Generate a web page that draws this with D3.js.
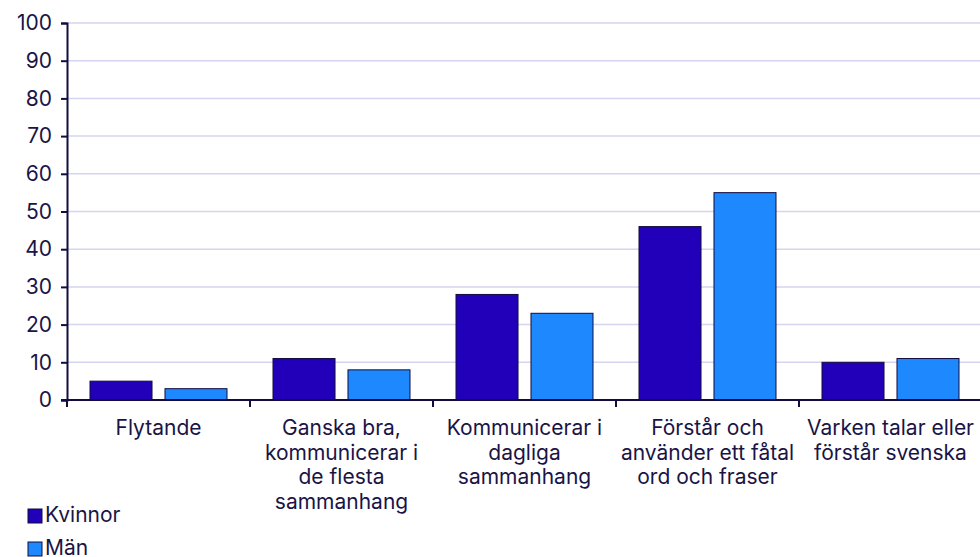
<!DOCTYPE html>
<html>
<head>
<meta charset="utf-8">
<script src="https://cdn.jsdelivr.net/npm/d3@7"></script>
<style>
  body { margin: 0; background: #fff; }
  svg text { font-family: Inter, "Noto Sans", sans-serif; font-size: 21px; }
</style>
</head>
<body>
<div id="chart"></div>
<script>
const categories = [
  'Flytande',
  'Ganska bra, kommunicerar i de flesta sammanhang',
  'Kommunicerar i dagliga sammanhang',
  'Förstår och använder ett fåtal ord och fraser',
  'Varken talar eller förstår svenska'
];
// wrapped as in the original
const categoryLines = [
  ['Flytande'],
  ['Ganska bra,', 'kommunicerar i', 'de flesta', 'sammanhang'],
  ['Kommunicerar i', 'dagliga', 'sammanhang'],
  ['Förstår och', 'använder ett fåtal', 'ord och fraser'],
  ['Varken talar eller', 'förstår svenska']
];
const seriesNames = ['Kvinnor', 'Män'];
const kvinnor = [5, 11, 28, 46, 10];
const man = [3, 8, 23, 55, 11];
const yTicks = [0, 10, 20, 30, 40, 50, 60, 70, 80, 90, 100];

const colors = ['#2200b9', '#1e88ff'];
const inkColor = '#1a1446';
const axisColor = '#120c3f';
const gridColor = '#d6d4ee';

const outerWidth = 980;
const outerHeight = 557;
const margin = { top: 23, right: 0, bottom: 157, left: 67 };
const width = 915;
const height = outerHeight - margin.top - margin.bottom;

const svg = d3.select('#chart').append('svg')
  .attr('width', outerWidth)
  .attr('height', outerHeight);

const g = svg.append('g')
  .attr('transform', `translate(${margin.left}, ${margin.top})`);

const x = d3.scaleBand().domain(categories).range([0, width]);
const x1 = d3.scaleBand().domain(seriesNames)
  .range([23, x.bandwidth() - 23])
  .paddingInner(0.173);
const y = d3.scaleLinear().domain([0, 100]).range([height, 0]);

// gridlines
g.append('g')
  .selectAll('line')
  .data(yTicks.filter(d => d > 0))
  .join('line')
  .attr('x1', 0)
  .attr('x2', width)
  .attr('y1', d => y(d))
  .attr('y2', d => y(d))
  .attr('stroke', gridColor)
  .attr('stroke-width', 1.5);

// bars
const data = categories.map((c, i) => ({ cat: c, vals: [kvinnor[i], man[i]] }));
g.append('g')
  .selectAll('g')
  .data(data)
  .join('g')
  .attr('transform', d => `translate(${x(d.cat)}, 0)`)
  .selectAll('rect')
  .data(d => d.vals.map((v, j) => ({ key: seriesNames[j], v: v, j: j })))
  .join('rect')
  .attr('x', d => x1(d.key))
  .attr('width', x1.bandwidth())
  .attr('y', d => y(d.v))
  .attr('height', d => y(0) - y(d.v))
  .attr('fill', d => colors[d.j])
  .attr('stroke', axisColor)
  .attr('stroke-width', 1);

// y axis
const yAxis = d3.axisLeft(y).tickValues(yTicks).tickSize(6).tickPadding(9);
const gy = g.append('g').call(yAxis)
  .attr('font-family', null).attr('font-size', null);
gy.select('.domain').attr('stroke', axisColor).attr('stroke-width', 2);
gy.selectAll('.tick line').attr('stroke', axisColor).attr('stroke-width', 2);
gy.selectAll('.tick text').attr('fill', inkColor);

// x axis line + boundary ticks
const gx = g.append('g').attr('transform', `translate(0, ${height})`);
gx.append('line')
  .attr('x1', -6).attr('x2', width)
  .attr('stroke', axisColor).attr('stroke-width', 2);
gx.selectAll('line.tk')
  .data(categories.concat([null]))
  .join('line')
  .attr('class', 'tk')
  .attr('x1', (d, i) => i * x.step())
  .attr('x2', (d, i) => i * x.step())
  .attr('y1', 0).attr('y2', 7)
  .attr('stroke', axisColor).attr('stroke-width', 2);

gx.selectAll('text.cat')
  .data(categories)
  .join('text')
  .attr('class', 'cat')
  .attr('x', d => x(d) + x.bandwidth() / 2)
  .attr('y', 35)
  .attr('text-anchor', 'middle')
  .attr('fill', inkColor)
  .selectAll('tspan')
  .data((d, i) => categoryLines[i])
  .join('tspan')
  .attr('x', function () { return d3.select(this.parentNode).attr('x'); })
  .attr('dy', (d, i) => i === 0 ? 0 : 24.5)
  .text(d => d);

// legend
const legend = svg.append('g').attr('transform', 'translate(28, 509)');
seriesNames.forEach((name, i) => {
  const row = legend.append('g').attr('transform', `translate(0, ${i * 33})`);
  row.append('rect')
    .attr('width', 14).attr('height', 14)
    .attr('fill', colors[i])
    .attr('stroke', axisColor).attr('stroke-width', 1);
  row.append('text')
    .attr('x', 17).attr('y', 13)
    .attr('fill', inkColor)
    .text(name);
});
</script>
</body>
</html>
